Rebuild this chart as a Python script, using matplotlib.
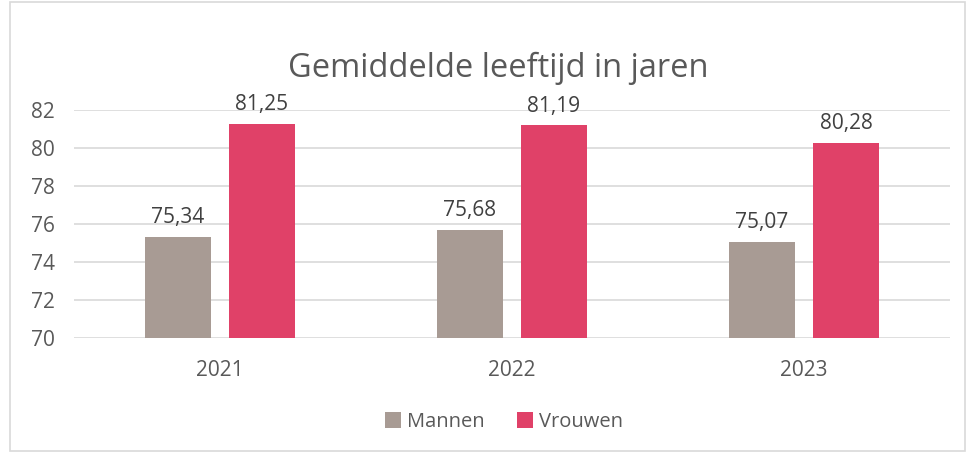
import matplotlib.pyplot as plt
import numpy as np
from matplotlib.patches import Rectangle

years = ["2021", "2022", "2023"]
mannen = [75.34, 75.68, 75.07]
vrouwen = [81.25, 81.19, 80.28]
yticks = [70, 72, 74, 76, 78, 80, 82]

text_color = "#595959"
plt.rcParams['font.family'] = ['Open Sans', 'DejaVu Sans']

fig = plt.figure(figsize=(9.75, 4.53), dpi=100)
ax = fig.add_axes([74 / 975, 1 - 338 / 453, 876 / 975, 228 / 453])

x = np.arange(len(years))
w = 0.226
gap = 0.062
b1 = ax.bar(x - (w + gap) / 2, np.array(mannen) - 70, w, bottom=70,
            color="#A89B94", label="Mannen", zorder=3)
b2 = ax.bar(x + (w + gap) / 2, np.array(vrouwen) - 70, w, bottom=70,
            color="#E04168", label="Vrouwen", zorder=3)

for bars, vals in ((b1, mannen), (b2, vrouwen)):
    for r, v in zip(bars, vals):
        ax.annotate(f"{v:.2f}".replace(".", ","),
                    (r.get_x() + r.get_width() / 2, v),
                    xytext=(0, 10), textcoords="offset points",
                    ha="center", va="baseline", fontsize=15, color="#404040")

ax.set_xlim(-0.5, 2.5)
ax.set_ylim(70, 82)
ax.set_yticks(yticks)
ax.set_xticks(x)
ax.set_xticklabels(years)
ax.yaxis.grid(True, color="#D9D9D9", linewidth=1.2, zorder=0)
for s in ax.spines.values():
    s.set_visible(False)
ax.tick_params(length=0, labelsize=15, labelcolor=text_color)
ax.tick_params(axis="x", pad=16)
ax.tick_params(axis="y", pad=14)

fig.text(498 / 975, 1 - 77 / 453, "Gemiddelde leeftijd in jaren", ha="center",
         va="baseline", fontsize=23.5, color=text_color)

fig.legend(handles=[b1, b2], loc="center", bbox_to_anchor=(504 / 975, 1 - 422 / 453),
           ncol=2, frameon=False, fontsize=14.5, labelcolor=text_color,
           handlelength=0.8, handleheight=0.8, handletextpad=0.3,
           columnspacing=1.6)

fig.patches.append(Rectangle((10 / 975, 2 / 453), 955 / 975, 449 / 453,
                             transform=fig.transFigure, fill=False,
                             edgecolor="#D9D9D9", linewidth=1.2))

fig.savefig("out.png", dpi=100)
